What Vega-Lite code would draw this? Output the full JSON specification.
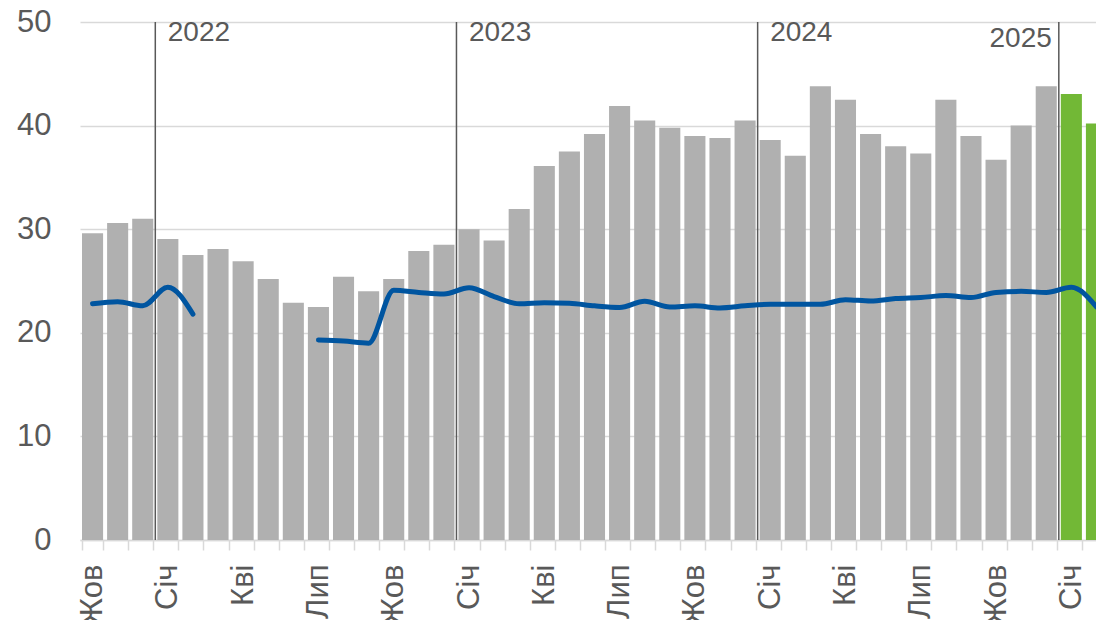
{
  "$schema": "https://vega.github.io/schema/vega-lite/v6.json",
  "width": 1029,
  "height": 518,
  "autosize": {"type": "none"},
  "padding": {"left": 80, "top": 22, "right": 0, "bottom": 80},
  "background": "white",
  "config": {"view": {"stroke": null}, "font": "Liberation Sans"},
  "datasets": {
    "main": [
      {"month": "2021-10", "value": 29.6, "avg": 22.8, "kind": "fact", "seg": 1},
      {"month": "2021-11", "value": 30.6, "avg": 23.0, "kind": "fact", "seg": 1},
      {"month": "2021-12", "value": 31.0, "avg": 22.6, "kind": "fact", "seg": 1},
      {"month": "2022-01", "value": 29.05, "avg": 24.4, "kind": "fact", "seg": 1},
      {"month": "2022-02", "value": 27.5, "avg": 21.8, "kind": "fact", "seg": 1},
      {"month": "2022-03", "value": 28.1, "avg": null, "kind": "fact", "seg": 0},
      {"month": "2022-04", "value": 26.9, "avg": null, "kind": "fact", "seg": 0},
      {"month": "2022-05", "value": 25.2, "avg": null, "kind": "fact", "seg": 0},
      {"month": "2022-06", "value": 22.9, "avg": null, "kind": "fact", "seg": 0},
      {"month": "2022-07", "value": 22.5, "avg": 19.3, "kind": "fact", "seg": 2},
      {"month": "2022-08", "value": 25.4, "avg": 19.2, "kind": "fact", "seg": 2},
      {"month": "2022-09", "value": 24.0, "avg": 19.0, "kind": "fact", "seg": 2},
      {"month": "2022-10", "value": 25.2, "avg": 24.1, "kind": "fact", "seg": 2},
      {"month": "2022-11", "value": 27.9, "avg": 23.9, "kind": "fact", "seg": 2},
      {"month": "2022-12", "value": 28.5, "avg": 23.75, "kind": "fact", "seg": 2},
      {"month": "2023-01", "value": 30.0, "avg": 24.35, "kind": "fact", "seg": 2},
      {"month": "2023-02", "value": 28.9, "avg": 23.5, "kind": "fact", "seg": 2},
      {"month": "2023-03", "value": 31.95, "avg": 22.8, "kind": "fact", "seg": 2},
      {"month": "2023-04", "value": 36.1, "avg": 22.9, "kind": "fact", "seg": 2},
      {"month": "2023-05", "value": 37.5, "avg": 22.85, "kind": "fact", "seg": 2},
      {"month": "2023-06", "value": 39.2, "avg": 22.6, "kind": "fact", "seg": 2},
      {"month": "2023-07", "value": 41.9, "avg": 22.45, "kind": "fact", "seg": 2},
      {"month": "2023-08", "value": 40.5, "avg": 23.05, "kind": "fact", "seg": 2},
      {"month": "2023-09", "value": 39.8, "avg": 22.5, "kind": "fact", "seg": 2},
      {"month": "2023-10", "value": 39.0, "avg": 22.6, "kind": "fact", "seg": 2},
      {"month": "2023-11", "value": 38.8, "avg": 22.4, "kind": "fact", "seg": 2},
      {"month": "2023-12", "value": 40.5, "avg": 22.6, "kind": "fact", "seg": 2},
      {"month": "2024-01", "value": 38.6, "avg": 22.75, "kind": "fact", "seg": 2},
      {"month": "2024-02", "value": 37.1, "avg": 22.75, "kind": "fact", "seg": 2},
      {"month": "2024-03", "value": 43.8, "avg": 22.75, "kind": "fact", "seg": 2},
      {"month": "2024-04", "value": 42.5, "avg": 23.2, "kind": "fact", "seg": 2},
      {"month": "2024-05", "value": 39.2, "avg": 23.07, "kind": "fact", "seg": 2},
      {"month": "2024-06", "value": 38.0, "avg": 23.3, "kind": "fact", "seg": 2},
      {"month": "2024-07", "value": 37.3, "avg": 23.4, "kind": "fact", "seg": 2},
      {"month": "2024-08", "value": 42.5, "avg": 23.6, "kind": "fact", "seg": 2},
      {"month": "2024-09", "value": 39.0, "avg": 23.4, "kind": "fact", "seg": 2},
      {"month": "2024-10", "value": 36.7, "avg": 23.9, "kind": "fact", "seg": 2},
      {"month": "2024-11", "value": 40.0, "avg": 24.0, "kind": "fact", "seg": 2},
      {"month": "2024-12", "value": 43.8, "avg": 23.9, "kind": "fact", "seg": 2},
      {"month": "2025-01", "value": 43.05, "avg": 24.4, "kind": "new", "seg": 2},
      {"month": "2025-02", "value": 40.2, "avg": 22.5, "kind": "new", "seg": 2}
    ],
    "years": [
      {"month": "2022-01", "year": "2022", "side": "after"},
      {"month": "2023-01", "year": "2023", "side": "after"},
      {"month": "2024-01", "year": "2024", "side": "after"},
      {"month": "2025-01", "year": "2025", "side": "before"}
    ]
  },
  "layer": [
    {
      "data": {"name": "main"},
      "mark": {"type": "bar"},
      "encoding": {
        "x": {
          "field": "month",
          "type": "ordinal",
          "scale": {"type": "band", "paddingInner": 0.16, "paddingOuter": 0.08},
          "axis": {
            "title": null,
            "domainColor": "#d9d9d9",
            "domainWidth": 1.5,
            "tickColor": "#d9d9d9",
            "tickWidth": 1.5,
            "tickSize": 10,
            "tickBand": "extent",
            "labelAngle": -90,
            "labelPadding": 14,
            "labelFontSize": 31,
            "labelColor": "#595959",
            "labelOverlap": false,
            "labelBound": false,
            "labelExpr": "slice(datum.value + '', 5) == '01' ? 'Січ' : slice(datum.value + '', 5) == '04' ? 'Кві' : slice(datum.value + '', 5) == '07' ? 'Лип' : slice(datum.value + '', 5) == '10' ? 'Жов' : ''"
          }
        },
        "y": {
          "field": "value",
          "type": "quantitative",
          "scale": {"domain": [0, 50], "nice": false},
          "axis": {
            "title": null,
            "values": [0, 10, 20, 30, 40, 50],
            "domain": false,
            "ticks": false,
            "labelPadding": 29,
            "labelFontSize": 31,
            "labelColor": "#595959",
            "gridColor": "#d9d9d9",
            "gridWidth": 1.5
          }
        },
        "color": {
          "field": "kind",
          "type": "nominal",
          "scale": {"domain": ["fact", "new"], "range": ["#b0b0b0", "#72b836"]},
          "legend": null
        }
      }
    },
    {
      "data": {"name": "years"},
      "mark": {"type": "rule", "color": "#595959", "strokeWidth": 1.5},
      "encoding": {
        "x": {"field": "month", "type": "ordinal", "bandPosition": -0.095},
        "y": {"datum": 50},
        "y2": {"datum": 0}
      }
    },
    {
      "data": {"name": "main"},
      "transform": [{"filter": "datum.seg > 0"}],
      "mark": {"type": "line", "color": "#0055a0", "strokeWidth": 5, "interpolate": "monotone", "strokeCap": "round"},
      "encoding": {
        "x": {"field": "month", "type": "ordinal"},
        "y": {"field": "avg", "type": "quantitative"},
        "detail": {"field": "seg", "type": "nominal"}
      }
    },
    {
      "data": {"name": "years"},
      "transform": [{"filter": "datum.side == 'after'"}],
      "mark": {"type": "text", "align": "left", "baseline": "top", "dx": 12.5, "dy": -3, "fontSize": 28, "color": "#595959"},
      "encoding": {
        "x": {"field": "month", "type": "ordinal", "bandPosition": -0.095},
        "y": {"datum": 50},
        "text": {"field": "year"}
      }
    },
    {
      "data": {"name": "years"},
      "transform": [{"filter": "datum.side == 'before'"}],
      "mark": {"type": "text", "align": "right", "baseline": "top", "dx": -7, "dy": 3, "fontSize": 28, "color": "#595959"},
      "encoding": {
        "x": {"field": "month", "type": "ordinal", "bandPosition": -0.095},
        "y": {"datum": 50},
        "text": {"field": "year"}
      }
    }
  ]
}
